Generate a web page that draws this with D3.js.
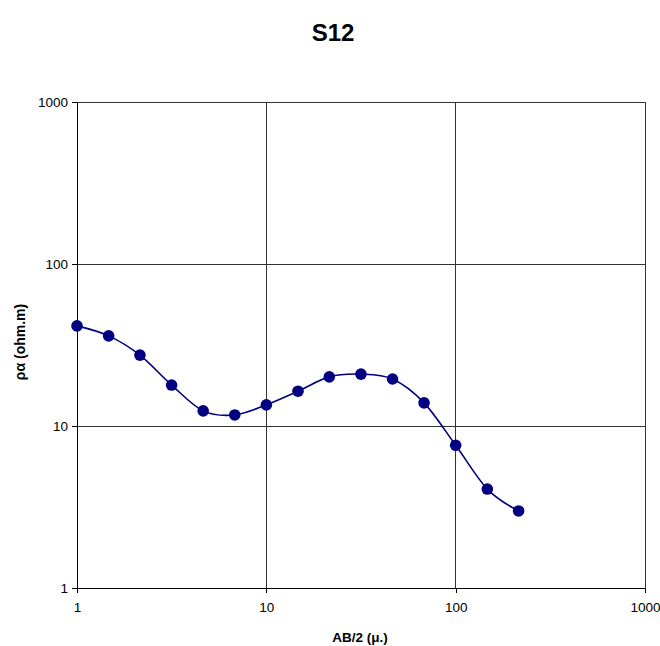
<!DOCTYPE html>
<html>
<head>
<meta charset="utf-8">
<script src="https://cdn.jsdelivr.net/npm/d3@7"></script>
<style>
  html, body { margin: 0; padding: 0; background: #fff; }
  svg { display: block; font-family: "Liberation Sans", Arial, sans-serif; }
</style>
</head>
<body>
<svg id="chart" width="660" height="646"></svg>
<script>
// Vertical electrical sounding S12: apparent resistivity vs. half electrode spacing
const abHalf = [1, 1.47, 2.15, 3.16, 4.64, 6.81, 10, 14.7, 21.5, 31.6, 46.4, 68.1, 100, 147, 215];
const rhoA   = [41.5, 36, 27.4, 17.9, 12.4, 11.7, 13.5, 16.4, 20.1, 20.9, 19.5, 13.9, 7.6, 4.08, 2.99];
const xTicks = [1, 10, 100, 1000];
const yTicks = [1, 10, 100, 1000];

const svg = d3.select("#chart");
const m = { left: 77, right: 645, top: 102, bottom: 588 };

const x = d3.scaleLog().domain([1, 1000]).range([m.left, m.right]);
const y = d3.scaleLog().domain([1, 1000]).range([m.bottom, m.top]);

// gridlines (the 1000 lines also close the plot frame)
svg.append("g").selectAll("line").data(xTicks.slice(1)).join("line")
  .attr("x1", d => x(d)).attr("x2", d => x(d))
  .attr("y1", m.top).attr("y2", m.bottom)
  .attr("stroke", "#333").attr("stroke-width", 1).attr("shape-rendering", "crispEdges");
svg.append("g").selectAll("line").data(yTicks.slice(1)).join("line")
  .attr("x1", m.left).attr("x2", m.right)
  .attr("y1", d => y(d)).attr("y2", d => y(d))
  .attr("stroke", "#333").attr("stroke-width", 1).attr("shape-rendering", "crispEdges");

// axes
const xAxis = d3.axisBottom(x).tickValues(xTicks).tickFormat(d3.format("d")).tickSizeInner(5).tickSizeOuter(0).tickPadding(9);
const yAxis = d3.axisLeft(y).tickValues(yTicks).tickFormat(d3.format("d")).tickSizeInner(5).tickSizeOuter(0).tickPadding(4);

const gx = svg.append("g").attr("transform", `translate(0,${m.bottom})`).call(xAxis);
const gy = svg.append("g").attr("transform", `translate(${m.left},0)`).call(yAxis);
[gx, gy].forEach(g => {
  g.select(".domain").attr("stroke", "#000").attr("shape-rendering", "crispEdges");
  g.selectAll(".tick line").attr("stroke", "#000").attr("shape-rendering", "crispEdges");
  g.selectAll(".tick text").attr("fill", "#000").attr("font-size", 13.5)
    .attr("font-family", "'Liberation Sans', Arial, sans-serif");
});

// smoothed sounding curve
const line = d3.line()
  .x((d, i) => x(abHalf[i]))
  .y(d => y(d))
  .curve(d3.curveCardinal.tension(0));
svg.append("path").datum(rhoA)
  .attr("d", line).attr("fill", "none")
  .attr("stroke", "#000080").attr("stroke-width", 1.6);

svg.append("g").selectAll("circle").data(rhoA).join("circle")
  .attr("cx", (d, i) => x(abHalf[i])).attr("cy", d => y(d))
  .attr("r", 5.8).attr("fill", "#000080");

// titles
svg.append("text").attr("x", 333).attr("y", 41).attr("text-anchor", "middle")
  .attr("font-size", 24).attr("font-weight", "bold").text("S12");
svg.append("text").attr("x", 360).attr("y", 642).attr("text-anchor", "middle")
  .attr("font-size", 13.5).attr("font-weight", "bold").text("AB/2 (μ.)");
svg.append("text").attr("transform", `translate(25,${342}) rotate(-90)`).attr("text-anchor", "middle")
  .attr("font-size", 14).attr("font-weight", "bold").text("ρα (ohm.m)");
</script>
</body>
</html>
